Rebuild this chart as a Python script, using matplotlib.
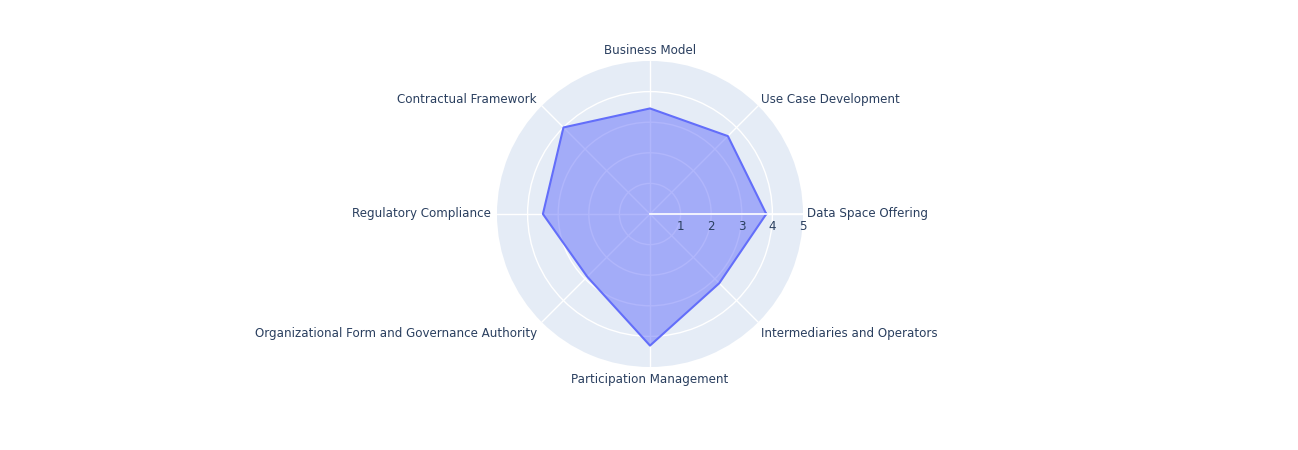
import numpy as np
import matplotlib.pyplot as plt

plt.rcParams['font.family'] = ['DejaVu Sans']

# categories, counterclockwise starting at east
categories = ['Data Space Offering', 'Use Case Development', 'Business Model',
              'Contractual Framework', 'Regulatory Compliance',
              'Organizational Form and Governance Authority',
              'Participation Management', 'Intermediaries and Operators']
scores = [3.8, 3.6, 3.45, 4.0, 3.5, 2.9, 4.3, 3.2]
radial_ticks = [1, 2, 3, 4, 5]

text_color = '#2a3f5f'
W, H = 1298, 450
cx, cy, R = 650, 214, 153

fig = plt.figure(figsize=(W / 100, H / 100), dpi=100)
ax = fig.add_axes([(cx - R) / W, (H - cy - R) / H, 2 * R / W, 2 * R / H], projection='polar')
ax.set_facecolor('#E5ECF6')
ax.spines['polar'].set_visible(False)
ax.set_axisbelow(True)

theta = np.linspace(0, 2 * np.pi, len(categories), endpoint=False)
ax.set_xticks(theta)
ax.set_xticklabels([])
ax.set_ylim(0, 5)
ax.set_yticks(radial_ticks[:-1])
ax.set_yticklabels([])
ax.grid(color='white', linewidth=1)

# data polygon
th = np.append(theta, theta[0])
vals = np.append(scores, scores[0])
ax.fill(th, vals, color='#636efa', alpha=0.5, linewidth=0, zorder=2)
ax.plot(th, vals, color='#636efa', linewidth=1.5, zorder=3)

# radial axis line, above the trace
ax.plot([0, 0], [0, 5], color='white', linewidth=1.2, zorder=4)
for t in radial_ticks:
    ax.annotate(str(t), xy=(0, t), xytext=(0, -4), textcoords='offset points',
                ha='center', va='top', fontsize=8.6, color=text_color,
                annotation_clip=False, zorder=5)

# category labels outside the circle (pixel offsets from the rim point)
for ang, lab in zip(theta, categories):
    c, s = np.cos(ang), np.sin(ang)
    if abs(c) < 0.1:
        ha, dx = 'center', 0
    elif c > 0:
        ha, dx = 'left', 4 if abs(s) < 0.1 else 3
    else:
        ha, dx = 'right', -6 if abs(s) < 0.1 else -5
    if abs(s) < 0.1:
        dy = 0
    elif s > 0:
        dy = 11 if abs(c) < 0.1 else 6
    else:
        dy = -13 if abs(c) < 0.1 else -11
    ax.annotate(lab, xy=(ang, 5), xytext=(dx * 0.72, dy * 0.72), textcoords='offset points',
                ha=ha, va='center', fontsize=8.6, color=text_color, annotation_clip=False)

fig.savefig('out.png', dpi=100)
